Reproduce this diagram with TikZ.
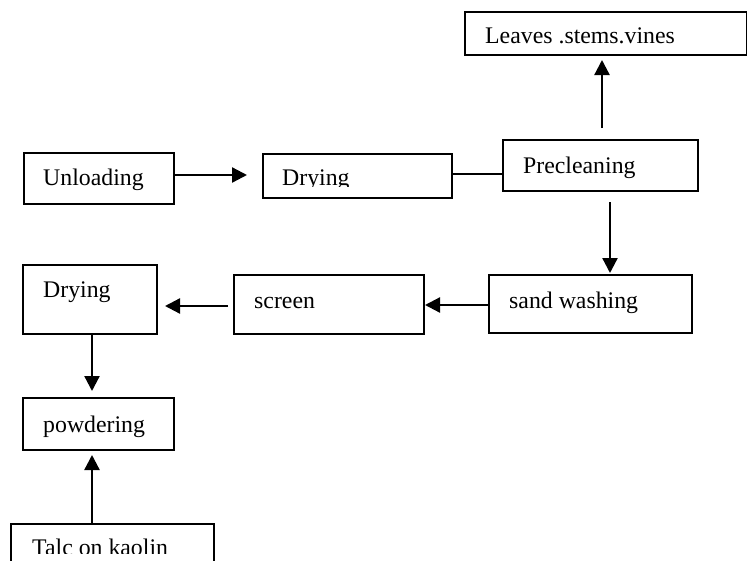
\documentclass[tikz,border=0pt]{standalone}
\usepackage{fontspec}
\setmainfont{Liberation Serif}
\usetikzlibrary{arrows.meta}
\tikzset{
  box/.style={draw, line width=1.8pt, inner sep=0pt, anchor=north west},
  txt/.style={inner sep=0pt, anchor=base west, font=\fontsize{23.8}{28}\selectfont},
  arr/.style={line width=2.3pt, -{Triangle[length=15pt,width=15pt]}},
  plain/.style={line width=2.3pt}
}
\begin{document}
\begin{tikzpicture}[x=1pt,y=-1pt]
\useasboundingbox (0,0) rectangle (747,560);
% boxes
\node[box, minimum width=282pt, minimum height=43pt] (leaves) at (464,11) {};
\node[box, minimum width=150pt, minimum height=51pt] (unl) at (23,152) {};
\node[box, minimum width=189pt, minimum height=44pt] (dry1) at (262,153) {};
\node[box, minimum width=195pt, minimum height=51pt] (pre) at (502,139) {};
\node[box, minimum width=203pt, minimum height=58pt] (sand) at (488,274) {};
\node[box, minimum width=190pt, minimum height=59pt] (scr) at (233,274) {};
\node[box, minimum width=134pt, minimum height=69pt] (dry2) at (22,264) {};
\node[box, minimum width=151pt, minimum height=52pt] (pow) at (22,397) {};
\node[box, minimum width=203pt, minimum height=60pt] (talc) at (10,523) {};
% texts
\node[txt] (leavesT) at (485,43) {Leaves .stems.vines};
\node[txt] (unlT) at (43,185) {Unloading};
\begin{scope}
\clip (262,150) rectangle (451,186);
\node[txt] (dry1T) at (282,185) {Drying};
\end{scope}
\node[txt] (preT) at (523,173) {Precleaning};
\node[txt] (sandT) at (509,308) {sand washing};
\node[txt] (scrT) at (254,308) {screen};
\node[txt] (dry2T) at (43,297) {Drying};
\node[txt] (powT) at (43,432) {powdering};
\begin{scope}
\clip (10,523) rectangle (213,553);
\node[txt] (talcT) at (32,555) {Talc on kaolin};
\end{scope}
% free ends of connectors
\coordinate (a1) at (247,175);
\coordinate (a2s) at (602,128);
\coordinate (a2e) at (602,60);
\coordinate (a3s) at (610,202);
\coordinate (a3e) at (610,273);
\coordinate (a4e) at (425,305);
\coordinate (a5s) at (228,306);
\coordinate (a5e) at (165,306);
\coordinate (a6e) at (92,391);
\coordinate (a7e) at (92,455);
% connectors
\draw[arr] (unl.east |- a1) -- (a1);
\draw[plain] (dry1.east |- 0,174) -- (pre.west |- 0,174);
\draw[arr] (a2s) -- (a2e);
\draw[arr] (a3s) -- (a3e);
\draw[arr] (sand.west |- a4e) -- (a4e);
\draw[arr] (a5s) -- (a5e);
\draw[arr] (dry2.south -| a6e) -- (a6e);
\draw[arr] (talc.north -| a7e) -- (a7e);
\end{tikzpicture}
\end{document}
